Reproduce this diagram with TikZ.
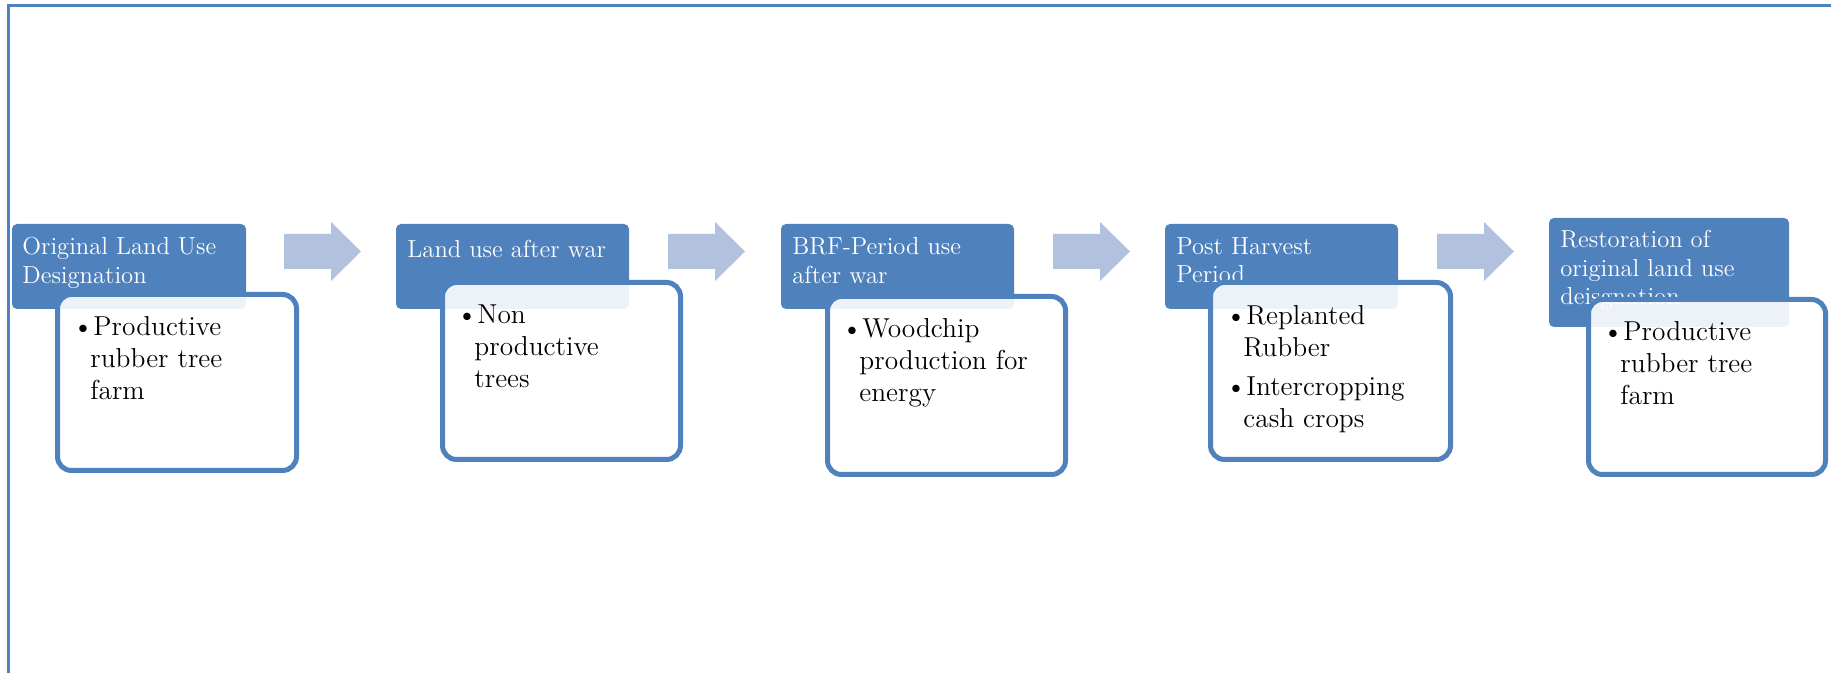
\documentclass[tikz,border=0pt]{standalone}
\usepackage{fontspec}
\usepackage{tikz}

\definecolor{stageblue}{HTML}{4F81BD}
\definecolor{arrowblue}{HTML}{B2C1DE}
\newcommand{\bul}{\hspace*{1.5pt}\llap{\textbullet}}

\begin{document}
\begin{tikzpicture}[x=0.5pt, y=-0.5pt,
    header/.style={fill=stageblue, rounded corners=2.5pt},
    card/.style={draw=stageblue, line width=2.5pt, fill=white, fill opacity=0.9, rounded corners=7pt},
    headtext/.style={anchor=north west, inner sep=0pt, align=left, text=white,
        font=\fontsize{12.3}{14.3}\selectfont, execute at begin node=\strut, yshift=10.01pt},
    cardtext/.style={anchor=north west, inner sep=0pt, align=left,
        font=\fontsize{13.7}{16}\selectfont, execute at begin node=\strut, yshift=11.2pt},
    flow/.style={fill=arrowblue}]
        \useasboundingbox (0,0) rectangle (1831,673);
        \draw[stageblue, line width=1.1pt] (8.5,673) -- (8.5,5.5) -- (1831,5.5);

        % arrows between the stages
        \foreach \x in {284,668,1053,1437}
            \fill[flow] (\x,234) -- ++(47,0) -- ++(0,-12) -- ++(30,29.5) -- ++(-30,29.5) -- ++(0,-12) -- ++(-47,0) -- cycle;

        % stage 1
        \fill[header] (12,224) rectangle (246,309);
        \node[headtext] (head1) at (22,257) {Original Land Use\\Designation};
        \draw[card] (57.5,294.5) rectangle (296.5,470.5);
        \node[cardtext] (text1) at (90,338) {\bul Productive\\rubber tree\\farm};

        % stage 2
        \fill[header] (396,224) rectangle (629,309);
        \node[headtext] (head2) at (407,257) {Land use after war};
        \draw[card] (442.5,282.5) rectangle (680.5,459.5);
        \node[cardtext] (text2) at (474,327) {\bul Non\\productive\\trees};

        % stage 3
        \fill[header] (781,224) rectangle (1014,309);
        \node[headtext] (head3) at (792,257) {BRF-Period use\\after war};
        \draw[card] (827.5,296.5) rectangle (1065.5,474.5);
        \node[cardtext] (text3) at (859,340) {\bul Woodchip\\production for\\energy};

        % stage 4
        \fill[header] (1165,224) rectangle (1398,309);
        \node[headtext] (head4) at (1176,257) {Post Harvest\\Period};
        \draw[card] (1210.5,282.5) rectangle (1450.5,459.5);
        \node[cardtext] (text4) at (1243,327) {\bul Replanted\\Rubber\\[3.5pt]\bul Intercropping\\cash crops};

        % stage 5
        \fill[header] (1549,218) rectangle (1789,327);
        \node[headtext] (head5) at (1560,250) {Restoration of\\original land use\\deisgnation};
        \draw[card] (1588.5,299.5) rectangle (1825.5,474.5);
        \node[cardtext] (text5) at (1620,343) {\bul Productive\\rubber tree\\farm};
    \end{tikzpicture}
\end{document}
